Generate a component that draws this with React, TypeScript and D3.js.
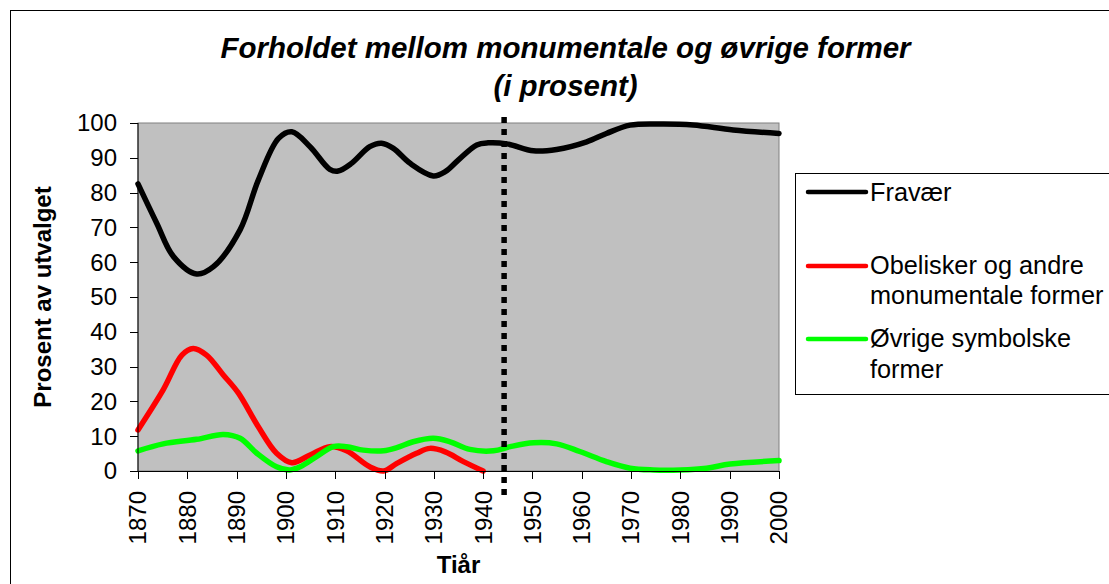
import React from "react";
import * as d3 from "d3";

const TITLE_LINES = ["Forholdet mellom monumentale og øvrige former", "(i prosent)"];
const Y_TITLE = "Prosent av utvalget";
const X_TITLE = "Tiår";
const X_TICKS = [1870, 1880, 1890, 1900, 1910, 1920, 1930, 1940, 1950, 1960, 1970, 1980, 1990, 2000];
const Y_TICKS = [0, 10, 20, 30, 40, 50, 60, 70, 80, 90, 100];
const DIVIDER_YEAR = 1944.25;

const fravaerYears = [1870, 1873.8, 1877.2, 1881.9, 1885.3, 1890.7, 1894.4, 1898.5, 1901.2, 1904.9, 1908.9, 1910.6, 1913.3, 1917, 1919.4, 1921.8, 1925.2, 1929.9, 1932.3, 1935, 1938.7, 1941, 1944.8, 1950.2, 1954.9, 1961, 1965, 1969.8, 1976.6, 1982.6, 1990.7, 2000];
const fravaerValues = [82.5, 71.2, 61.6, 56.6, 58.7, 69.3, 83.6, 95.6, 97.5, 93.2, 86.7, 86.2, 88.4, 93.2, 94.2, 92.7, 88.4, 84.8, 86.0, 89.4, 93.7, 94.3, 94.0, 92.0, 92.4, 94.6, 97.0, 99.4, 99.7, 99.4, 98.0, 97.0];

const obeliskYears = [1870, 1875.1, 1878.9, 1881.2, 1883.9, 1887.3, 1890.3, 1894.4, 1898.1, 1901.2, 1904.9, 1908.9, 1912.3, 1917, 1919.8, 1922.5, 1926.5, 1929.2, 1932.3, 1936, 1940];
const obeliskValues = [11.8, 23.3, 33.3, 35.2, 33.3, 27.6, 22.5, 12.7, 5.1, 2.4, 4.6, 7.0, 5.8, 1.2, 0, 2.2, 5.1, 6.5, 5.5, 2.7, 0];

const ovrigeYears = [1870, 1875.1, 1881.9, 1887.3, 1890.7, 1894.1, 1898.1, 1900.8, 1902.9, 1906.2, 1909.6, 1912.3, 1915.7, 1919.8, 1922.5, 1925.8, 1929.9, 1933.3, 1937.3, 1942.1, 1945.5, 1950.2, 1954.9, 1959.6, 1965, 1969.8, 1974.5, 1980, 1985.3, 1990.1, 2000];
const ovrigeValues = [5.8, 7.8, 9.1, 10.5, 9.4, 5.1, 1.2, 0.3, 1.2, 4.1, 7.0, 7.0, 6.0, 5.8, 6.7, 8.4, 9.4, 8.4, 6.2, 5.8, 7.0, 8.1, 7.8, 5.6, 2.7, 0.8, 0.3, 0.3, 0.8, 2.0, 3.0];

const SERIES = [
  { name: ["Fravær"], color: "#000000", years: fravaerYears, values: fravaerValues },
  { name: ["Obelisker og andre", "monumentale former"], color: "#ff0000", years: obeliskYears, values: obeliskValues },
  { name: ["Øvrige symbolske", "former"], color: "#00ff00", years: ovrigeYears, values: ovrigeValues },
];

const FONT = "'Liberation Sans', Arial, sans-serif";

export default function App() {
  const W = 1109, H = 584;
  const left = 138, right = 779, top = 123, bottom = 471;
  const x = d3.scaleLinear().domain([1870, 2000]).range([left, right]);
  const y = d3.scaleLinear().domain([0, 100]).range([bottom, top]);

  const line = d3
    .line<[number, number]>()
    .x((d) => x(d[0]))
    .y((d) => y(d[1]))
    .curve(d3.curveCatmullRom.alpha(0.5));

  const legendY = [192, 266, 339];
  const legendTextY = [[201], [273.5, 304], [347, 377.5]];

  return (
    <svg
      width={W}
      height={H}
      style={{ position: "absolute", left: 0, top: 0, background: "#fff" }}
      fontFamily={FONT}
    >
      <rect x={10.5} y={10.5} width={1200} height={700} fill="#fff" stroke="#000" strokeWidth={1} />
      {/* title */}
      {TITLE_LINES.map((t, i) => (
        <text
          key={i}
          x={565.5}
          y={i === 0 ? 58 : 96}
          textAnchor="middle"
          fontSize={29.5}
          fontWeight="bold"
          fontStyle="italic"
        >
          {t}
        </text>
      ))}
      {/* plot area */}
      <rect x={left} y={top} width={right - left} height={bottom - top} fill="#c0c0c0" stroke="#808080" strokeWidth={1} />
      {/* series */}
      {SERIES.map((s, i) => (
        <path
          key={i}
          d={line(s.years.map((yr, j) => [yr, s.values[j]] as [number, number])) || ""}
          fill="none"
          stroke={s.color}
          strokeWidth={5.5}
          strokeLinejoin="round"
          strokeLinecap="round"
        />
      ))}
      {/* axes */}
      <line x1={left} x2={left} y1={top} y2={bottom} stroke="#000" strokeWidth={1} />
      <line x1={left} x2={right} y1={bottom + 0.5} y2={bottom + 0.5} stroke="#000" strokeWidth={1} />
      {Y_TICKS.map((t) => (
        <g key={t}>
          <line x1={left - 8} x2={left} y1={Math.round(y(t)) + 0.5} y2={Math.round(y(t)) + 0.5} stroke="#000" strokeWidth={1} />
          <text x={117} y={y(t)} dy="0.35em" textAnchor="end" fontSize={24}>
            {t}
          </text>
        </g>
      ))}
      {X_TICKS.map((t) => (
        <g key={t}>
          <line x1={Math.round(x(t)) + 0.5} x2={Math.round(x(t)) + 0.5} y1={bottom} y2={bottom + 8} stroke="#000" strokeWidth={1} />
          <text
            transform={`translate(${x(t)},${491}) rotate(-90)`}
            dy="0.35em"
            textAnchor="end"
            fontSize={24}
          >
            {t}
          </text>
        </g>
      ))}
      {/* divider */}
      <line
        x1={x(DIVIDER_YEAR)}
        x2={x(DIVIDER_YEAR)}
        y1={117}
        y2={495}
        stroke="#000"
        strokeWidth={5.5}
        strokeDasharray="6 6"
      />
      {/* axis titles */}
      <text x={(left + right) / 2} y={573} textAnchor="middle" fontSize={24} fontWeight="bold">
        {X_TITLE}
      </text>
      <text
        transform={`translate(${51},${(top + bottom) / 2}) rotate(-90)`}
        textAnchor="middle"
        fontSize={24}
        fontWeight="bold"
      >
        {Y_TITLE}
      </text>
      {/* legend */}
      <rect x={795.5} y={173.5} width={400} height={221} fill="#fff" stroke="#000" strokeWidth={1} />
      {SERIES.map((s, i) => (
        <g key={i}>
          <line x1={808} x2={866} y1={legendY[i]} y2={legendY[i]} stroke={s.color} strokeWidth={4.5} strokeLinecap="round" />
          {s.name.map((n, k) => (
            <text key={k} x={870} y={legendTextY[i][k]} fontSize={25.3}>
              {n}
            </text>
          ))}
        </g>
      ))}
    </svg>
  );
}
